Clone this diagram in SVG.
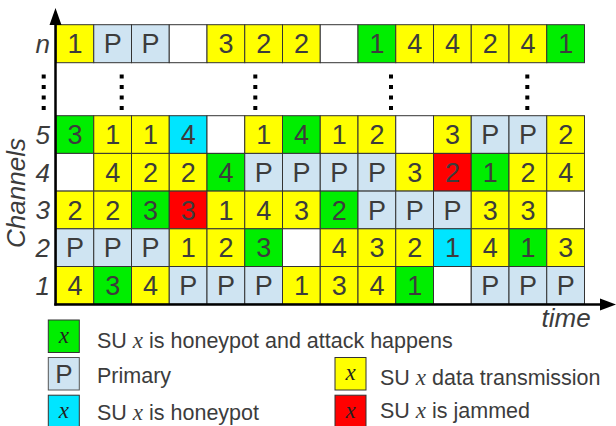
<svg xmlns="http://www.w3.org/2000/svg" width="616" height="426" viewBox="0 0 616 426">
  <style>
    .cell rect { stroke: #333; stroke-width: 1; }
    .cell text { font-family: "Liberation Sans", Arial, sans-serif; font-size: 27px; fill: #3c3c3c; text-anchor: middle; }
    .y { fill: #ffff00; }
    .g { fill: #00ee00; }
    .p { fill: #cfe4f2; }
    .c { fill: #00e5ff; }
    .r { fill: #ff0000; }
    .w { fill: #ffffff; }
    .lbl { font-family: "Liberation Sans", Arial, sans-serif; font-style: italic; font-size: 26px; fill: #3c3c3c; }
    .leg { font-family: "Liberation Sans", Arial, sans-serif; font-size: 21.5px; fill: #3c3c3c; }
    .mx { font-family: "Liberation Serif", "Times New Roman", serif; font-style: italic; font-size: 23px; }
    .dot { fill: #000; }
    .axis { stroke: #000; stroke-width: 2.5; fill: none; }
  </style>
  <defs>
    <g id="dots">
      <rect class="dot" x="-2" y="74.5" width="4" height="4"/>
      <rect class="dot" x="-2" y="85" width="4" height="4"/>
      <rect class="dot" x="-2" y="95.5" width="4" height="4"/>
      <rect class="dot" x="-2" y="106" width="4" height="4"/>
    </g>
  </defs>
  <rect width="616" height="426" fill="#ffffff"/>

  <!-- channel n -->
  <g id="row-n">
    <g id="n-0" class="cell" transform="translate(56,24.7)"><rect class="y" width="37.75" height="38"/><text x="18.9" y="28.7">1</text></g>
    <g id="n-1" class="cell" transform="translate(93.75,24.7)"><rect class="p" width="37.75" height="38"/><text x="18.9" y="28.7">P</text></g>
    <g id="n-2" class="cell" transform="translate(131.5,24.7)"><rect class="p" width="37.75" height="38"/><text x="18.9" y="28.7">P</text></g>
    <g id="n-3" class="cell" transform="translate(169.25,24.7)"><rect class="w" width="37.75" height="38"/></g>
    <g id="n-4" class="cell" transform="translate(207,24.7)"><rect class="y" width="37.75" height="38"/><text x="18.9" y="28.7">3</text></g>
    <g id="n-5" class="cell" transform="translate(244.75,24.7)"><rect class="y" width="37.75" height="38"/><text x="18.9" y="28.7">2</text></g>
    <g id="n-6" class="cell" transform="translate(282.5,24.7)"><rect class="y" width="37.75" height="38"/><text x="18.9" y="28.7">2</text></g>
    <g id="n-7" class="cell" transform="translate(320.25,24.7)"><rect class="w" width="37.75" height="38"/></g>
    <g id="n-8" class="cell" transform="translate(358,24.7)"><rect class="g" width="37.75" height="38"/><text x="18.9" y="28.7">1</text></g>
    <g id="n-9" class="cell" transform="translate(395.75,24.7)"><rect class="y" width="37.75" height="38"/><text x="18.9" y="28.7">4</text></g>
    <g id="n-10" class="cell" transform="translate(433.5,24.7)"><rect class="y" width="37.75" height="38"/><text x="18.9" y="28.7">4</text></g>
    <g id="n-11" class="cell" transform="translate(471.25,24.7)"><rect class="y" width="37.75" height="38"/><text x="18.9" y="28.7">2</text></g>
    <g id="n-12" class="cell" transform="translate(509,24.7)"><rect class="y" width="37.75" height="38"/><text x="18.9" y="28.7">4</text></g>
    <g id="n-13" class="cell" transform="translate(546.75,24.7)"><rect class="g" width="37.75" height="38"/><text x="18.9" y="28.7">1</text></g>
  </g>

  <!-- channel 5 -->
  <g id="row-5">
    <g id="c5-0" class="cell" transform="translate(56,115.7)"><rect class="g" width="37.75" height="37.7"/><text x="18.9" y="28.6">3</text></g>
    <g id="c5-1" class="cell" transform="translate(93.75,115.7)"><rect class="y" width="37.75" height="37.7"/><text x="18.9" y="28.6">1</text></g>
    <g id="c5-2" class="cell" transform="translate(131.5,115.7)"><rect class="y" width="37.75" height="37.7"/><text x="18.9" y="28.6">1</text></g>
    <g id="c5-3" class="cell" transform="translate(169.25,115.7)"><rect class="c" width="37.75" height="37.7"/><text x="18.9" y="28.6">4</text></g>
    <g id="c5-4" class="cell" transform="translate(207,115.7)"><rect class="w" width="37.75" height="37.7"/></g>
    <g id="c5-5" class="cell" transform="translate(244.75,115.7)"><rect class="y" width="37.75" height="37.7"/><text x="18.9" y="28.6">1</text></g>
    <g id="c5-6" class="cell" transform="translate(282.5,115.7)"><rect class="g" width="37.75" height="37.7"/><text x="18.9" y="28.6">4</text></g>
    <g id="c5-7" class="cell" transform="translate(320.25,115.7)"><rect class="y" width="37.75" height="37.7"/><text x="18.9" y="28.6">1</text></g>
    <g id="c5-8" class="cell" transform="translate(358,115.7)"><rect class="y" width="37.75" height="37.7"/><text x="18.9" y="28.6">2</text></g>
    <g id="c5-9" class="cell" transform="translate(395.75,115.7)"><rect class="w" width="37.75" height="37.7"/></g>
    <g id="c5-10" class="cell" transform="translate(433.5,115.7)"><rect class="y" width="37.75" height="37.7"/><text x="18.9" y="28.6">3</text></g>
    <g id="c5-11" class="cell" transform="translate(471.25,115.7)"><rect class="p" width="37.75" height="37.7"/><text x="18.9" y="28.6">P</text></g>
    <g id="c5-12" class="cell" transform="translate(509,115.7)"><rect class="p" width="37.75" height="37.7"/><text x="18.9" y="28.6">P</text></g>
    <g id="c5-13" class="cell" transform="translate(546.75,115.7)"><rect class="y" width="37.75" height="37.7"/><text x="18.9" y="28.6">2</text></g>
  </g>

  <!-- channel 4 -->
  <g id="row-4">
    <g id="c4-0" class="cell" transform="translate(56,153.4)"><rect class="w" width="37.75" height="37.7"/></g>
    <g id="c4-1" class="cell" transform="translate(93.75,153.4)"><rect class="y" width="37.75" height="37.7"/><text x="18.9" y="28.6">4</text></g>
    <g id="c4-2" class="cell" transform="translate(131.5,153.4)"><rect class="y" width="37.75" height="37.7"/><text x="18.9" y="28.6">2</text></g>
    <g id="c4-3" class="cell" transform="translate(169.25,153.4)"><rect class="y" width="37.75" height="37.7"/><text x="18.9" y="28.6">2</text></g>
    <g id="c4-4" class="cell" transform="translate(207,153.4)"><rect class="g" width="37.75" height="37.7"/><text x="18.9" y="28.6">4</text></g>
    <g id="c4-5" class="cell" transform="translate(244.75,153.4)"><rect class="p" width="37.75" height="37.7"/><text x="18.9" y="28.6">P</text></g>
    <g id="c4-6" class="cell" transform="translate(282.5,153.4)"><rect class="p" width="37.75" height="37.7"/><text x="18.9" y="28.6">P</text></g>
    <g id="c4-7" class="cell" transform="translate(320.25,153.4)"><rect class="p" width="37.75" height="37.7"/><text x="18.9" y="28.6">P</text></g>
    <g id="c4-8" class="cell" transform="translate(358,153.4)"><rect class="p" width="37.75" height="37.7"/><text x="18.9" y="28.6">P</text></g>
    <g id="c4-9" class="cell" transform="translate(395.75,153.4)"><rect class="y" width="37.75" height="37.7"/><text x="18.9" y="28.6">3</text></g>
    <g id="c4-10" class="cell" transform="translate(433.5,153.4)"><rect class="r" width="37.75" height="37.7"/><text x="18.9" y="28.6">2</text></g>
    <g id="c4-11" class="cell" transform="translate(471.25,153.4)"><rect class="g" width="37.75" height="37.7"/><text x="18.9" y="28.6">1</text></g>
    <g id="c4-12" class="cell" transform="translate(509,153.4)"><rect class="y" width="37.75" height="37.7"/><text x="18.9" y="28.6">2</text></g>
    <g id="c4-13" class="cell" transform="translate(546.75,153.4)"><rect class="y" width="37.75" height="37.7"/><text x="18.9" y="28.6">4</text></g>
  </g>

  <!-- channel 3 -->
  <g id="row-3">
    <g id="c3-0" class="cell" transform="translate(56,191.1)"><rect class="y" width="37.75" height="37.7"/><text x="18.9" y="28.6">2</text></g>
    <g id="c3-1" class="cell" transform="translate(93.75,191.1)"><rect class="y" width="37.75" height="37.7"/><text x="18.9" y="28.6">2</text></g>
    <g id="c3-2" class="cell" transform="translate(131.5,191.1)"><rect class="g" width="37.75" height="37.7"/><text x="18.9" y="28.6">3</text></g>
    <g id="c3-3" class="cell" transform="translate(169.25,191.1)"><rect class="r" width="37.75" height="37.7"/><text x="18.9" y="28.6">3</text></g>
    <g id="c3-4" class="cell" transform="translate(207,191.1)"><rect class="y" width="37.75" height="37.7"/><text x="18.9" y="28.6">1</text></g>
    <g id="c3-5" class="cell" transform="translate(244.75,191.1)"><rect class="y" width="37.75" height="37.7"/><text x="18.9" y="28.6">4</text></g>
    <g id="c3-6" class="cell" transform="translate(282.5,191.1)"><rect class="y" width="37.75" height="37.7"/><text x="18.9" y="28.6">3</text></g>
    <g id="c3-7" class="cell" transform="translate(320.25,191.1)"><rect class="g" width="37.75" height="37.7"/><text x="18.9" y="28.6">2</text></g>
    <g id="c3-8" class="cell" transform="translate(358,191.1)"><rect class="p" width="37.75" height="37.7"/><text x="18.9" y="28.6">P</text></g>
    <g id="c3-9" class="cell" transform="translate(395.75,191.1)"><rect class="p" width="37.75" height="37.7"/><text x="18.9" y="28.6">P</text></g>
    <g id="c3-10" class="cell" transform="translate(433.5,191.1)"><rect class="p" width="37.75" height="37.7"/><text x="18.9" y="28.6">P</text></g>
    <g id="c3-11" class="cell" transform="translate(471.25,191.1)"><rect class="y" width="37.75" height="37.7"/><text x="18.9" y="28.6">3</text></g>
    <g id="c3-12" class="cell" transform="translate(509,191.1)"><rect class="y" width="37.75" height="37.7"/><text x="18.9" y="28.6">3</text></g>
    <g id="c3-13" class="cell" transform="translate(546.75,191.1)"><rect class="w" width="37.75" height="37.7"/></g>
  </g>

  <!-- channel 2 -->
  <g id="row-2">
    <g id="c2-0" class="cell" transform="translate(56,228.8)"><rect class="p" width="37.75" height="37.7"/><text x="18.9" y="28.6">P</text></g>
    <g id="c2-1" class="cell" transform="translate(93.75,228.8)"><rect class="p" width="37.75" height="37.7"/><text x="18.9" y="28.6">P</text></g>
    <g id="c2-2" class="cell" transform="translate(131.5,228.8)"><rect class="p" width="37.75" height="37.7"/><text x="18.9" y="28.6">P</text></g>
    <g id="c2-3" class="cell" transform="translate(169.25,228.8)"><rect class="y" width="37.75" height="37.7"/><text x="18.9" y="28.6">1</text></g>
    <g id="c2-4" class="cell" transform="translate(207,228.8)"><rect class="y" width="37.75" height="37.7"/><text x="18.9" y="28.6">2</text></g>
    <g id="c2-5" class="cell" transform="translate(244.75,228.8)"><rect class="g" width="37.75" height="37.7"/><text x="18.9" y="28.6">3</text></g>
    <g id="c2-6" class="cell" transform="translate(282.5,228.8)"><rect class="w" width="37.75" height="37.7"/></g>
    <g id="c2-7" class="cell" transform="translate(320.25,228.8)"><rect class="y" width="37.75" height="37.7"/><text x="18.9" y="28.6">4</text></g>
    <g id="c2-8" class="cell" transform="translate(358,228.8)"><rect class="y" width="37.75" height="37.7"/><text x="18.9" y="28.6">3</text></g>
    <g id="c2-9" class="cell" transform="translate(395.75,228.8)"><rect class="y" width="37.75" height="37.7"/><text x="18.9" y="28.6">2</text></g>
    <g id="c2-10" class="cell" transform="translate(433.5,228.8)"><rect class="c" width="37.75" height="37.7"/><text x="18.9" y="28.6">1</text></g>
    <g id="c2-11" class="cell" transform="translate(471.25,228.8)"><rect class="y" width="37.75" height="37.7"/><text x="18.9" y="28.6">4</text></g>
    <g id="c2-12" class="cell" transform="translate(509,228.8)"><rect class="g" width="37.75" height="37.7"/><text x="18.9" y="28.6">1</text></g>
    <g id="c2-13" class="cell" transform="translate(546.75,228.8)"><rect class="y" width="37.75" height="37.7"/><text x="18.9" y="28.6">3</text></g>
  </g>

  <!-- channel 1 -->
  <g id="row-1">
    <g id="c1-0" class="cell" transform="translate(56,266.5)"><rect class="y" width="37.75" height="37.7"/><text x="18.9" y="28.6">4</text></g>
    <g id="c1-1" class="cell" transform="translate(93.75,266.5)"><rect class="g" width="37.75" height="37.7"/><text x="18.9" y="28.6">3</text></g>
    <g id="c1-2" class="cell" transform="translate(131.5,266.5)"><rect class="y" width="37.75" height="37.7"/><text x="18.9" y="28.6">4</text></g>
    <g id="c1-3" class="cell" transform="translate(169.25,266.5)"><rect class="p" width="37.75" height="37.7"/><text x="18.9" y="28.6">P</text></g>
    <g id="c1-4" class="cell" transform="translate(207,266.5)"><rect class="p" width="37.75" height="37.7"/><text x="18.9" y="28.6">P</text></g>
    <g id="c1-5" class="cell" transform="translate(244.75,266.5)"><rect class="p" width="37.75" height="37.7"/><text x="18.9" y="28.6">P</text></g>
    <g id="c1-6" class="cell" transform="translate(282.5,266.5)"><rect class="y" width="37.75" height="37.7"/><text x="18.9" y="28.6">1</text></g>
    <g id="c1-7" class="cell" transform="translate(320.25,266.5)"><rect class="y" width="37.75" height="37.7"/><text x="18.9" y="28.6">3</text></g>
    <g id="c1-8" class="cell" transform="translate(358,266.5)"><rect class="y" width="37.75" height="37.7"/><text x="18.9" y="28.6">4</text></g>
    <g id="c1-9" class="cell" transform="translate(395.75,266.5)"><rect class="g" width="37.75" height="37.7"/><text x="18.9" y="28.6">1</text></g>
    <g id="c1-10" class="cell" transform="translate(433.5,266.5)"><rect class="w" width="37.75" height="37.7"/></g>
    <g id="c1-11" class="cell" transform="translate(471.25,266.5)"><rect class="p" width="37.75" height="37.7"/><text x="18.9" y="28.6">P</text></g>
    <g id="c1-12" class="cell" transform="translate(509,266.5)"><rect class="p" width="37.75" height="37.7"/><text x="18.9" y="28.6">P</text></g>
    <g id="c1-13" class="cell" transform="translate(546.75,266.5)"><rect class="p" width="37.75" height="37.7"/><text x="18.9" y="28.6">P</text></g>
  </g>

  <!-- vertical ellipses between channel 5 and channel n -->
  <g id="ellipses">
    <use href="#dots" x="43.7"/>
    <use href="#dots" x="121.7"/>
    <use href="#dots" x="255.3"/>
    <use href="#dots" x="391"/>
    <use href="#dots" x="527.3"/>
  </g>

  <!-- axes -->
  <g id="axes">
    <line class="axis" x1="55.5" y1="305.5" x2="55.5" y2="22"/>
    <polygon points="55.5,8 49.5,25 61.5,25" fill="#000"/>
    <line class="axis" x1="54.3" y1="304.5" x2="602" y2="304.5"/>
    <polygon points="616,304.5 600,298.5 600,310.5" fill="#000"/>
  </g>

  <!-- axis labels -->
  <g id="labels">
    <text class="lbl" x="50" y="53" text-anchor="end">n</text>
    <text class="lbl" x="50" y="143.8" text-anchor="end">5</text>
    <text class="lbl" x="50" y="181.5" text-anchor="end">4</text>
    <text class="lbl" x="50" y="219.2" text-anchor="end">3</text>
    <text class="lbl" x="50" y="256.9" text-anchor="end">2</text>
    <text class="lbl" x="50" y="294.6" text-anchor="end">1</text>
    <text class="lbl" transform="translate(25,193) rotate(-90)" text-anchor="middle" font-size="27.5">Channels</text>
    <text class="lbl" x="541.5" y="326.7" font-size="25">time</text>
  </g>

  <!-- legend -->
  <g id="legend-attack">
    <rect class="g" x="48.3" y="320" width="31" height="32.5" stroke="#333" stroke-width="1"/>
    <text class="mx" x="63.8" y="342.5" text-anchor="middle" fill="#222">x</text>
    <text class="leg" x="97" y="348.3">SU <tspan class="mx">x</tspan> is honeypot and attack happens</text>
  </g>
  <g id="legend-primary">
    <rect class="p" x="48.3" y="357.5" width="31" height="32.5" stroke="#555" stroke-width="1"/>
    <text x="63.8" y="383" text-anchor="middle" font-family="Liberation Sans, Arial, sans-serif" font-size="26" fill="#3c3c3c">P</text>
    <text class="leg" x="97" y="383.3">Primary</text>
  </g>
  <g id="legend-honeypot">
    <rect class="c" x="48.3" y="395.2" width="31" height="32.5" stroke="#333" stroke-width="1"/>
    <text class="mx" x="63.8" y="417.5" text-anchor="middle" fill="#222">x</text>
    <text class="leg" x="97" y="420">SU <tspan class="mx">x</tspan> is honeypot</text>
  </g>
  <g id="legend-data">
    <rect class="y" x="335" y="357.5" width="31" height="32.5" stroke="#333" stroke-width="1"/>
    <text class="mx" x="350.5" y="380" text-anchor="middle" fill="#222">x</text>
    <text class="leg" x="380" y="385">SU <tspan class="mx">x</tspan> data transmission</text>
  </g>
  <g id="legend-jammed">
    <rect class="r" x="335" y="395.2" width="31" height="32.5" stroke="#333" stroke-width="1"/>
    <text class="mx" x="350.5" y="417.5" text-anchor="middle" fill="#222">x</text>
    <text class="leg" x="380" y="418.3">SU <tspan class="mx">x</tspan> is jammed</text>
  </g>
</svg>
